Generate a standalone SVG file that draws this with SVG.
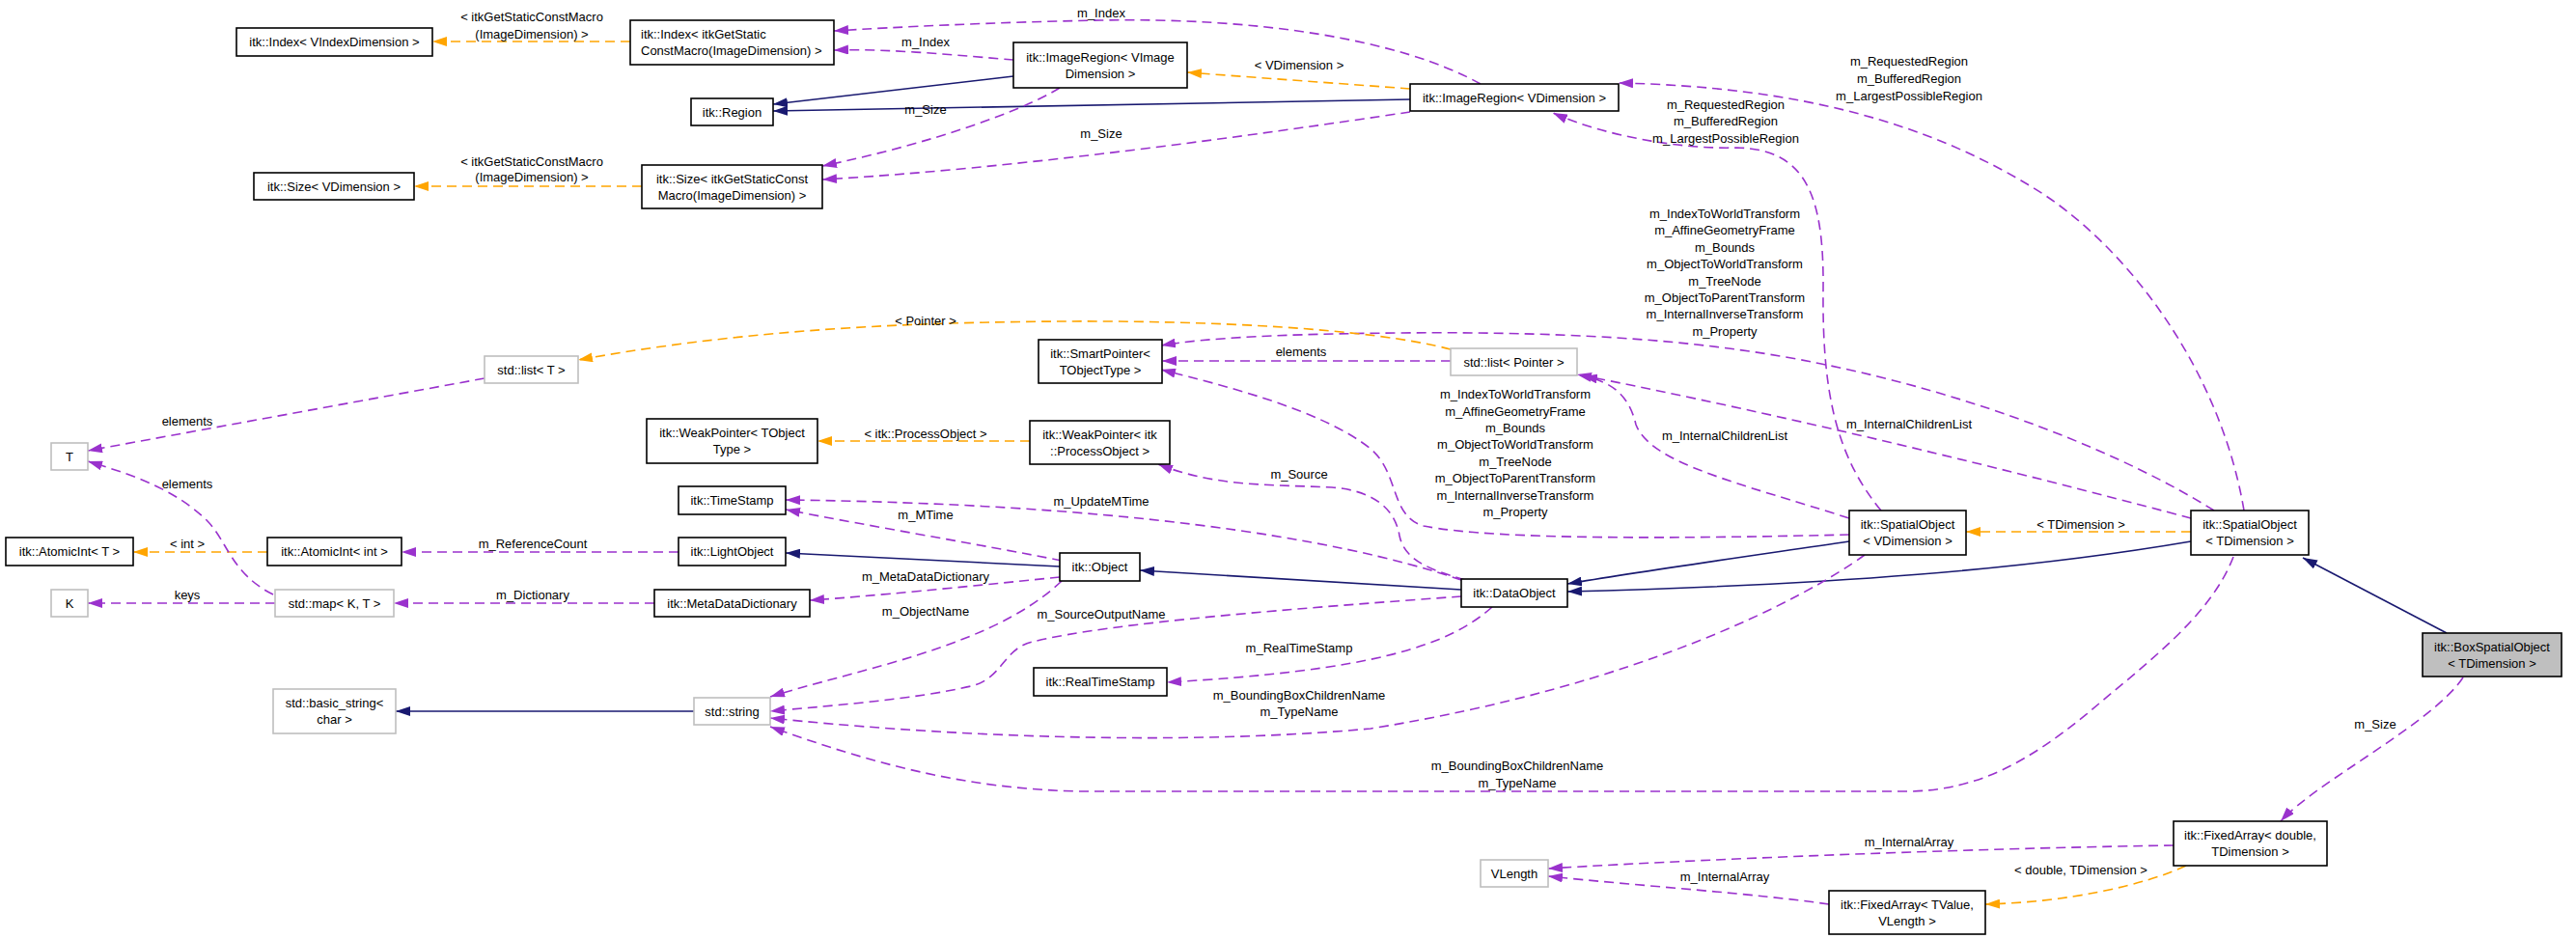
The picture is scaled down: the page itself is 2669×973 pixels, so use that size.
<svg xmlns="http://www.w3.org/2000/svg" width="2669" height="973" viewBox="0 0 2669 973">
<defs>
<style>
text{font-family:"Liberation Sans",Arial,Helvetica,sans-serif;font-size:13px;fill:#000;text-anchor:middle}
.node rect{fill:#fff;stroke:#000;stroke-width:1.6}
.node.ext rect{stroke:#bfbfbf}
.node.cur rect{fill:#bfbfbf}
.e{fill:none;stroke-width:1.6}
.inh{stroke:#191970;marker-end:url(#ab)}
.use{stroke:#9a32cd;stroke-dasharray:10,6;marker-end:url(#ap)}
.tpl{stroke:#ffa500;stroke-dasharray:10,6;marker-end:url(#ao)}
</style>
<marker id="ab" markerUnits="userSpaceOnUse" viewBox="0 0 15 10" refX="15" refY="5" markerWidth="15" markerHeight="10" orient="auto"><path d="M0,0 L15,5 L0,10 z" fill="#191970"/></marker>
<marker id="ap" markerUnits="userSpaceOnUse" viewBox="0 0 15 10" refX="15" refY="5" markerWidth="15" markerHeight="10" orient="auto"><path d="M0,0 L15,5 L0,10 z" fill="#9a32cd"/></marker>
<marker id="ao" markerUnits="userSpaceOnUse" viewBox="0 0 15 10" refX="15" refY="5" markerWidth="15" markerHeight="10" orient="auto"><path d="M0,0 L15,5 L0,10 z" fill="#ffa500"/></marker>
</defs>
<rect x="0" y="0" width="2669" height="973" fill="#fff"/>

<g id="connectors">
<path class="e tpl" d="M653,43 L448,43"/>
<text x="551" y="21.5">&lt; itkGetStaticConstMacro</text><text x="551" y="39.5">(ImageDimension) &gt;</text>
<path class="e tpl" d="M665,193 L429,193"/>
<text x="551" y="171.5">&lt; itkGetStaticConstMacro</text><text x="551" y="188">(ImageDimension) &gt;</text>
<path class="e use" d="M1534,87 C1450,40 1300,18 1141,21 C1030,23 930,28 864,32"/>
<text x="1141" y="17.5">m_Index</text>
<path class="e use" d="M1050,62 C1000,58 920,50 864,52"/>
<text x="959" y="47.5">m_Index</text>
<path class="e inh" d="M1050,79 L801,108"/>
<path class="e inh" d="M1461,103 L801,115"/>
<path class="e use" d="M1098,91 C1060,115 960,150 852,172"/>
<text x="959" y="117.5">m_Size</text>
<path class="e use" d="M1461,116 C1300,140 1050,175 852,186"/>
<text x="1141" y="142.5">m_Size</text>
<path class="e tpl" d="M1461,92 L1230,75"/>
<text x="1346" y="72">&lt; VDimension &gt;</text>
<path class="e use" d="M2325,529 C2300,380 2200,250 2104,193 C2000,130 1870,90 1677,86"/>
<text x="1978" y="67.5">m_RequestedRegion</text><text x="1978" y="85.5">m_BufferedRegion</text><text x="1978" y="103.5">m_LargestPossibleRegion</text>
<path class="e use" d="M1949,529 C1900,470 1888,400 1889,300 C1890,200 1870,155 1800,153 C1740,155 1660,140 1609,117"/>
<text x="1788" y="112.5">m_RequestedRegion</text><text x="1788" y="129.5">m_BufferedRegion</text><text x="1788" y="147.5">m_LargestPossibleRegion</text>
<path class="e use" d="M2294,529 C2200,470 2050,410 1887,377 C1780,355 1650,343 1450,345 C1330,346 1250,350 1203,358"/>
<text x="1787" y="225.5">m_IndexToWorldTransform</text><text x="1787" y="242.5">m_AffineGeometryFrame</text><text x="1787" y="260.5">m_Bounds</text><text x="1787" y="277.5">m_ObjectToWorldTransform</text><text x="1787" y="295.5">m_TreeNode</text><text x="1787" y="312.5">m_ObjectToParentTransform</text><text x="1787" y="329.5">m_InternalInverseTransform</text><text x="1787" y="347.5">m_Property</text>
<path class="e use" d="M2270,537 C2150,505 1900,440 1634,388"/>
<text x="1978" y="443.5">m_InternalChildrenList</text>
<path class="e use" d="M1916,537 C1800,500 1710,480 1695,440 C1688,410 1670,395 1640,390"/>
<text x="1787" y="455.5">m_InternalChildrenList</text>
<path class="e use" d="M1916,554 C1750,558 1550,560 1475,545 C1440,535 1450,490 1420,465 C1370,425 1270,400 1203,383"/>
<text x="1570" y="413">m_IndexToWorldTransform</text><text x="1570" y="431">m_AffineGeometryFrame</text><text x="1570" y="448">m_Bounds</text><text x="1570" y="465">m_ObjectToWorldTransform</text><text x="1570" y="482.5">m_TreeNode</text><text x="1570" y="500">m_ObjectToParentTransform</text><text x="1570" y="517.5">m_InternalInverseTransform</text><text x="1570" y="535">m_Property</text>
<path class="e use" d="M1518,601 C1480,590 1455,580 1450,555 C1445,525 1420,508 1380,505 C1320,502 1260,505 1200,481"/>
<text x="1346" y="495.5">m_Source</text>
<path class="e use" d="M1514,601 C1380,555 1150,522 814,518"/>
<text x="1141" y="523.5">m_UpdateMTime</text>
<path class="e use" d="M1100,581 C1020,565 900,545 814,528"/>
<text x="959" y="537.5">m_MTime</text>
<path class="e inh" d="M1098,587 L814,573"/>
<path class="e inh" d="M1514,611 L1181,591"/>
<path class="e inh" d="M1916,561 C1800,578 1700,592 1624,605"/>
<path class="e inh" d="M2270,561 C2100,590 1900,606 1624,613"/>
<path class="e tpl" d="M2270,551 L2037,551"/>
<text x="2156" y="547.5">&lt; TDimension &gt;</text>
<path class="e use" d="M703,572 L416,572"/>
<text x="552" y="567.5">m_ReferenceCount</text>
<path class="e tpl" d="M277,572 L138,572"/>
<text x="194" y="567.5">&lt; int &gt;</text>
<path class="e use" d="M678,625 L408,625"/>
<text x="552" y="620.5">m_Dictionary</text>
<path class="e use" d="M285,625 L91,625"/>
<text x="194" y="620.5">keys</text>
<path class="e use" d="M283,616 C240,595 235,560 215,540 C180,505 130,490 91,478"/>
<text x="194" y="505.5">elements</text>
<path class="e use" d="M502,392 L91,467"/>
<text x="194" y="440.5">elements</text>
<path class="e tpl" d="M1503,362 C1420,340 1250,332 1100,333 C950,334 780,340 599,373"/>
<text x="959" y="336.5">&lt; Pointer &gt;</text>
<path class="e use" d="M1503,374 L1204,374"/>
<text x="1348" y="368.5">elements</text>
<path class="e tpl" d="M1067,457 L847,457"/>
<text x="959" y="453.5">&lt; itk::ProcessObject &gt;</text>
<path class="e use" d="M1098,598 C1000,608 900,618 839,622"/>
<text x="959" y="601.5">m_MetaDataDictionary</text>
<path class="e use" d="M1100,602 C1060,640 1000,665 920,688 C870,702 830,712 798,722"/>
<text x="959" y="637.5">m_ObjectName</text>
<path class="e use" d="M1514,618 C1350,630 1150,645 1070,665 C1040,672 1040,700 1010,710 C950,725 850,732 798,737"/>
<text x="1141" y="640.5">m_SourceOutputName</text>
<path class="e use" d="M1932,575 C1870,620 1700,710 1420,755 C1200,775 950,760 798,744"/>
<text x="1346" y="724.5">m_BoundingBoxChildrenName</text><text x="1346" y="741.5">m_TypeName</text>
<path class="e use" d="M2314,577 C2290,640 2220,690 2162,740 C2100,790 2050,818 1980,820 L1121,820 C1000,818 900,790 798,753"/>
<text x="1572" y="797.5">m_BoundingBoxChildrenName</text><text x="1572" y="815.5">m_TypeName</text>
<path class="e use" d="M1546,629 C1500,670 1420,695 1209,707"/>
<text x="1346" y="675.5">m_RealTimeStamp</text>
<path class="e inh" d="M2535,656 L2386,578"/>
<path class="e use" d="M2552,702 C2520,750 2400,810 2363,851"/>
<text x="2461" y="754.5">m_Size</text>
<path class="e use" d="M2252,876 C2100,878 1800,888 1604,900"/>
<text x="1978" y="876.5">m_InternalArray</text>
<path class="e use" d="M1895,937 C1820,926 1700,918 1604,908"/>
<text x="1787" y="912.5">m_InternalArray</text>
<path class="e tpl" d="M2265,897 C2220,918 2140,935 2057,937"/>
<text x="2156" y="905.5">&lt; double, TDimension &gt;</text>
<path class="e inh" d="M719,737 L410,737"/>
</g>

<g id="n_index_v" class="node"><rect x="245" y="29" width="203" height="29"/><text x="346.5" y="48">itk::Index&lt; VIndexDimension &gt;</text></g>
<g id="n_index_g" class="node"><rect x="653" y="21" width="211" height="46"/><text x="664" y="40" style="text-anchor:start">itk::Index&lt; itkGetStatic</text><text x="664" y="57" style="text-anchor:start">ConstMacro(ImageDimension) &gt;</text></g>
<g id="n_region" class="node"><rect x="716" y="102" width="85" height="28"/><text x="758.5" y="120.5">itk::Region</text></g>
<g id="n_size_v" class="node"><rect x="263" y="179" width="166" height="28"/><text x="346" y="197.5">itk::Size&lt; VDimension &gt;</text></g>
<g id="n_size_g" class="node"><rect x="665" y="171" width="187" height="45"/><text x="758.5" y="189.5">itk::Size&lt; itkGetStaticConst</text><text x="758.5" y="206.5">Macro(ImageDimension) &gt;</text></g>
<g id="n_imageregion_vi" class="node"><rect x="1050" y="44" width="180" height="47"/><text x="1140" y="63.5">itk::ImageRegion&lt; VImage</text><text x="1140" y="80.5">Dimension &gt;</text></g>
<g id="n_imageregion_v" class="node"><rect x="1461" y="87" width="216" height="28"/><text x="1569" y="105.5">itk::ImageRegion&lt; VDimension &gt;</text></g>
<g id="n_list_t" class="node ext"><rect x="502" y="369" width="97" height="28"/><text x="550.5" y="387.5">std::list&lt; T &gt;</text></g>
<g id="n_t" class="node ext"><rect x="53" y="459" width="38" height="28"/><text x="72" y="477.5">T</text></g>
<g id="n_smartpointer" class="node"><rect x="1076" y="352" width="128" height="45"/><text x="1140" y="370.5">itk::SmartPointer&lt;</text><text x="1140" y="387.5">TObjectType &gt;</text></g>
<g id="n_list_pointer" class="node ext"><rect x="1503" y="361" width="131" height="28"/><text x="1568.5" y="379.5">std::list&lt; Pointer &gt;</text></g>
<g id="n_weakpointer_t" class="node"><rect x="670" y="434" width="177" height="46"/><text x="758.5" y="453">itk::WeakPointer&lt; TObject</text><text x="758.5" y="470">Type &gt;</text></g>
<g id="n_weakpointer_p" class="node"><rect x="1067" y="436" width="145" height="45"/><text x="1139.5" y="454.5">itk::WeakPointer&lt; itk</text><text x="1139.5" y="471.5">::ProcessObject &gt;</text></g>
<g id="n_timestamp" class="node"><rect x="703" y="504" width="111" height="29"/><text x="758.5" y="523">itk::TimeStamp</text></g>
<g id="n_atomicint_t" class="node"><rect x="6" y="557" width="132" height="29"/><text x="72" y="576">itk::AtomicInt&lt; T &gt;</text></g>
<g id="n_atomicint_int" class="node"><rect x="277" y="557" width="139" height="29"/><text x="346.5" y="576">itk::AtomicInt&lt; int &gt;</text></g>
<g id="n_lightobject" class="node"><rect x="703" y="557" width="111" height="29"/><text x="758.5" y="576">itk::LightObject</text></g>
<g id="n_object" class="node"><rect x="1098" y="573" width="83" height="29"/><text x="1139.5" y="592">itk::Object</text></g>
<g id="n_dataobject" class="node"><rect x="1514" y="600" width="110" height="29"/><text x="1569" y="619">itk::DataObject</text></g>
<g id="n_spatialobject_v" class="node"><rect x="1916" y="529" width="121" height="46"/><text x="1976.5" y="547.5">itk::SpatialObject</text><text x="1976.5" y="564.5">&lt; VDimension &gt;</text></g>
<g id="n_spatialobject_t" class="node"><rect x="2270" y="529" width="122" height="46"/><text x="2331" y="547.5">itk::SpatialObject</text><text x="2331" y="564.5">&lt; TDimension &gt;</text></g>
<g id="n_k" class="node ext"><rect x="53" y="611" width="38" height="28"/><text x="72" y="629.5">K</text></g>
<g id="n_map" class="node ext"><rect x="285" y="611" width="123" height="28"/><text x="346.5" y="629.5">std::map&lt; K, T &gt;</text></g>
<g id="n_metadatadictionary" class="node"><rect x="678" y="611" width="161" height="28"/><text x="758.5" y="629.5">itk::MetaDataDictionary</text></g>
<g id="n_boxspatialobject" class="node cur"><rect x="2510" y="656" width="144" height="45"/><text x="2582" y="674.5">itk::BoxSpatialObject</text><text x="2582" y="691.5">&lt; TDimension &gt;</text></g>
<g id="n_realtimestamp" class="node"><rect x="1071" y="692" width="138" height="29"/><text x="1140" y="711">itk::RealTimeStamp</text></g>
<g id="n_basic_string" class="node ext"><rect x="283" y="714" width="127" height="46"/><text x="346.5" y="733">std::basic_string&lt;</text><text x="346.5" y="750">char &gt;</text></g>
<g id="n_string" class="node ext"><rect x="719" y="723" width="79" height="28"/><text x="758.5" y="741.5">std::string</text></g>
<g id="n_vlength" class="node ext"><rect x="1534" y="891" width="70" height="28"/><text x="1569" y="909.5">VLength</text></g>
<g id="n_fixedarray_d" class="node"><rect x="2252" y="851" width="159" height="46"/><text x="2331.5" y="870">itk::FixedArray&lt; double,</text><text x="2331.5" y="887">TDimension &gt;</text></g>
<g id="n_fixedarray_t" class="node"><rect x="1895" y="923" width="162" height="45"/><text x="1976" y="941.5">itk::FixedArray&lt; TValue,</text><text x="1976" y="958.5">VLength &gt;</text></g>
</svg>
